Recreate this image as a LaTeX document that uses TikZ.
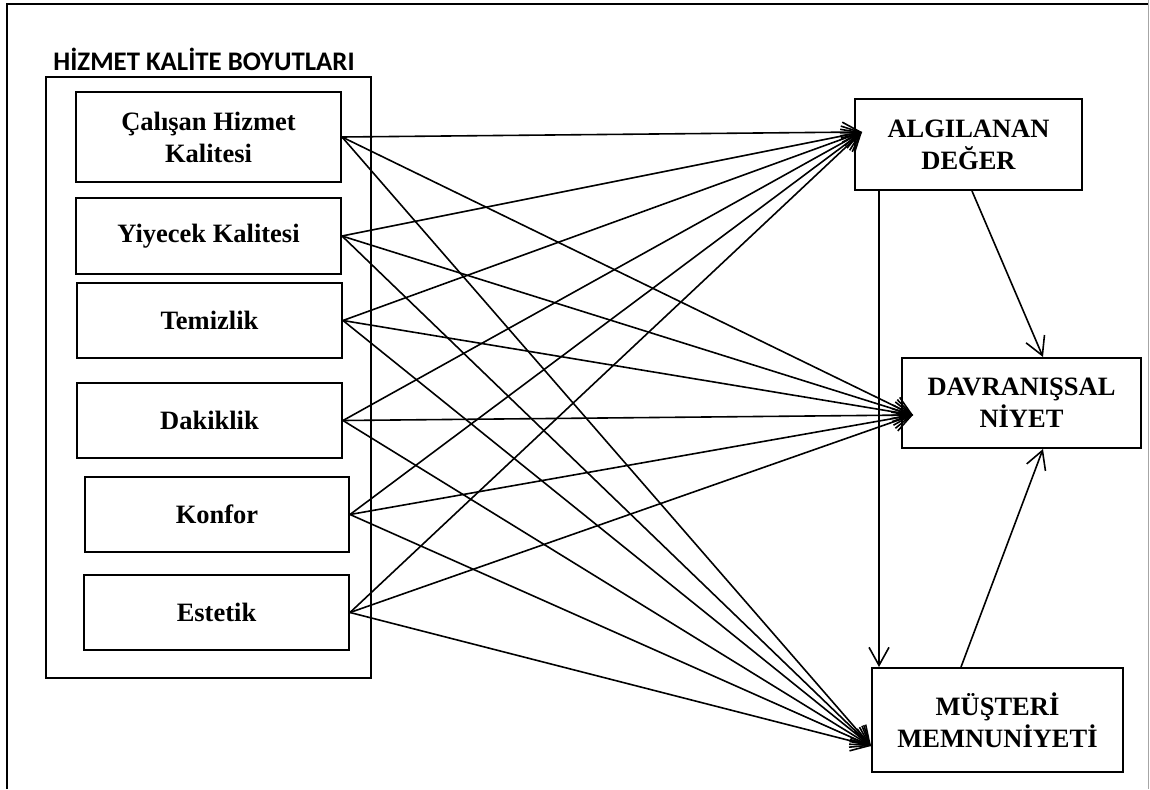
\documentclass[tikz,border=0pt]{standalone}
\usepackage{fontspec}
\setmainfont{Liberation Serif}
\newfontfamily\titlefont{Carlito}
\usetikzlibrary{arrows.meta,calc}
\begin{document}
\begin{tikzpicture}[x=1pt,y=-1pt,
  box/.style={draw,line width=2pt,align=center,inner sep=0pt,
    font=\fontsize{26.5}{32}\selectfont\bfseries},
  arr/.style={line width=1.6pt,-{Straight Barb[length=18pt,width=20pt,line width=1.6pt]}}]
\useasboundingbox (0,0) rectangle (1150,789);
% page frame
\draw[line width=2.4pt] (7,789) -- (7,4) -- (1148,4);
\draw[line width=1.2pt,black!35] (1148.5,0) -- (1148.5,789);
% group of quality dimensions
\node[anchor=base,font=\titlefont\fontsize{26.8}{30}\selectfont\bfseries] (title) at (204,71) {HİZMET KALİTE BOYUTLARI};
\node[draw,line width=2pt,minimum width=325pt,minimum height=601pt,inner sep=0pt] (grp) at (208.5,377.5) {};
\node[box,minimum width=265pt,minimum height=90pt] (c1) at (208.5,137) {Çalışan Hizmet\\Kalitesi};
\node[box,minimum width=265pt,minimum height=76pt] (c2) at (208.5,236) {Yiyecek Kalitesi};
\node[box,minimum width=265pt,minimum height=75pt] (c3) at (209.5,320.5) {Temizlik};
\node[box,minimum width=265pt,minimum height=75pt] (c4) at (209.5,420.5) {Dakiklik};
\node[box,minimum width=264pt,minimum height=75pt] (c5) at (217,514.5) {Konfor};
\node[box,minimum width=265pt,minimum height=75pt] (c6) at (216.5,612.5) {Estetik};
% outcome constructs
\node[box,minimum width=227pt,minimum height=91pt] (alg) at (968.5,144.5) {ALGILANAN\\DEĞER};
\node[box,minimum width=239pt,minimum height=90pt] (dav) at (1021.5,403) {DAVRANIŞSAL\\NİYET};
\node[box,minimum width=251pt,minimum height=104pt] (mus) at (997.5,720) {MÜŞTERİ\\MEMNUNİYETİ};
% convergence points of the incoming arrows
\coordinate (ta) at (862,132);
\coordinate (td) at (913,415);
\coordinate (tm) at (871,746);
% every dimension points to each outcome
\foreach \s in {c1,c2,c3,c4,c5,c6}{
  \draw[arr] (\s.east) -- (ta);
  \draw[arr] (\s.east) -- (td);
  \draw[arr] (\s.east) -- (tm);
}
% links among the outcomes
\draw[arr] ([xshift=25pt]alg.south west) -- ([xshift=25pt]alg.south west |- mus.north);
\draw[arr] ([xshift=118pt]alg.south west) -- ([xshift=142pt]dav.north west);
\draw[arr] ([xshift=90pt]mus.north west) -- ([xshift=142pt]dav.south west);
\end{tikzpicture}
\end{document}
